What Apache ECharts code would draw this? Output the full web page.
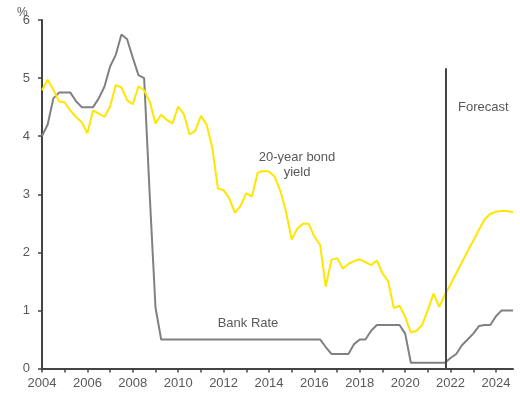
<!DOCTYPE html>
<html>
<head>
<meta charset="utf-8">
<script src="https://cdn.jsdelivr.net/npm/echarts@6/dist/echarts.min.js"></script>
<style>html,body{margin:0;padding:0;background:#fff}#c{width:520px;height:394px}</style>
</head>
<body>
<div id="c"></div>
<script>
// Quarterly observations starting 2004 Q1
const startYear = 2004;
const bondYield = [
  4.79, 4.97, 4.80, 4.60, 4.58, 4.44, 4.33, 4.24,
  4.05, 4.44, 4.39, 4.33, 4.51, 4.88, 4.84, 4.62,
  4.55, 4.86, 4.79, 4.59, 4.22, 4.37, 4.28, 4.22,
  4.51, 4.38, 4.03, 4.09, 4.35, 4.20, 3.80, 3.10,
  3.07, 2.93, 2.68, 2.80, 3.02, 2.96, 3.37, 3.40,
  3.39, 3.30, 3.06, 2.70, 2.22, 2.41, 2.49, 2.49,
  2.27, 2.13, 1.41, 1.87, 1.90, 1.72, 1.80, 1.85,
  1.88, 1.83, 1.78, 1.86, 1.64, 1.50, 1.04, 1.08,
  0.89, 0.62, 0.65, 0.75, 1.01, 1.29, 1.06, 1.27,
  1.45, 1.64, 1.83, 2.02, 2.20, 2.39, 2.57, 2.66,
  2.70, 2.71, 2.71, 2.69
];
const bankRate = [
  4.00, 4.20, 4.65, 4.75, 4.75, 4.75, 4.60, 4.50,
  4.50, 4.50, 4.65, 4.85, 5.20, 5.40, 5.75, 5.67,
  5.35, 5.05, 5.00, 2.95, 1.05, 0.50, 0.50, 0.50,
  0.50, 0.50, 0.50, 0.50, 0.50, 0.50, 0.50, 0.50,
  0.50, 0.50, 0.50, 0.50, 0.50, 0.50, 0.50, 0.50,
  0.50, 0.50, 0.50, 0.50, 0.50, 0.50, 0.50, 0.50,
  0.50, 0.50, 0.37, 0.25, 0.25, 0.25, 0.25, 0.42,
  0.50, 0.50, 0.65, 0.75, 0.75, 0.75, 0.75, 0.75,
  0.60, 0.10, 0.10, 0.10, 0.10, 0.10, 0.10, 0.10,
  0.18, 0.25, 0.40, 0.50, 0.60, 0.73, 0.75, 0.75,
  0.90, 1.00, 1.00, 1.00
];
const xTicks = [2004,2005,2006,2007,2008,2009,2010,2011,2012,2013,2014,2015,2016,2017,2018,2019,2020,2021,2022,2023,2024];
const xLabels = [2004,2006,2008,2010,2012,2014,2016,2018,2020,2022,2024];
const forecastStart = 2021.8;
const forecastTop = 5.17;

const toPairs = arr => arr.map((v, i) => [startYear + i * 0.25, v]);

const chart = echarts.init(document.getElementById('c'));
const txt = '#595959';
const font = 'Liberation Sans';
chart.setOption({
  animation: false,
  grid: { left: 42, right: 7, top: 20, bottom: 25.5, containLabel: false },
  xAxis: {
    type: 'value', min: 2004, max: 2024.75, interval: 1,
    axisLine: { show: true, lineStyle: { color: '#444', width: 2 } },
    axisTick: { show: true, length: 4, customValues: xTicks, lineStyle: { color: '#444', width: 1.5 } },
    axisLabel: { customValues: xLabels, color: txt, fontSize: 13, fontFamily: font, margin: 8, formatter: v => String(v) },
    splitLine: { show: false }
  },
  yAxis: {
    type: 'value', min: 0, max: 6, interval: 1,
    axisLine: { show: true, lineStyle: { color: '#444', width: 2 } },
    axisTick: { show: true, length: 4, lineStyle: { color: '#444', width: 1.5 } },
    axisLabel: { color: txt, fontSize: 13, fontFamily: font, margin: 12 },
    splitLine: { show: false }
  },
  series: [
    {
      name: 'Bank Rate', type: 'line', data: toPairs(bankRate), symbol: 'none',
      lineStyle: { color: '#808080', width: 2 }, z: 2
    },
    {
      name: '20-year bond yield', type: 'line', data: toPairs(bondYield), symbol: 'none',
      lineStyle: { color: '#FFE600', width: 2 }, z: 3
    },
    {
      name: 'forecast', type: 'line', data: [], symbol: 'none',
      markLine: {
        symbol: 'none', silent: true, label: { show: false },
        lineStyle: { color: '#444', width: 2, type: 'solid' },
        data: [[{ coord: [forecastStart, 0] }, { coord: [forecastStart, forecastTop] }]]
      }, z: 4
    }
  ],
  graphic: [
    { type: 'text', left: 17, top: 7, style: { text: '%', fill: txt, fontSize: 12, fontFamily: font } },
    { type: 'text', x: 297, y: 157, style: { text: '20-year bond', fill: txt, fontSize: 13, fontFamily: font, align: 'center', verticalAlign: 'middle' } },
    { type: 'text', x: 297, y: 172, style: { text: 'yield', fill: txt, fontSize: 13, fontFamily: font, align: 'center', verticalAlign: 'middle' } },
    { type: 'text', x: 248, y: 323, style: { text: 'Bank Rate', fill: txt, fontSize: 13, fontFamily: font, align: 'center', verticalAlign: 'middle' } },
    { type: 'text', x: 458, y: 107, style: { text: 'Forecast', fill: txt, fontSize: 13, fontFamily: font, align: 'left', verticalAlign: 'middle' } }
  ]
});
</script>
</body>
</html>
